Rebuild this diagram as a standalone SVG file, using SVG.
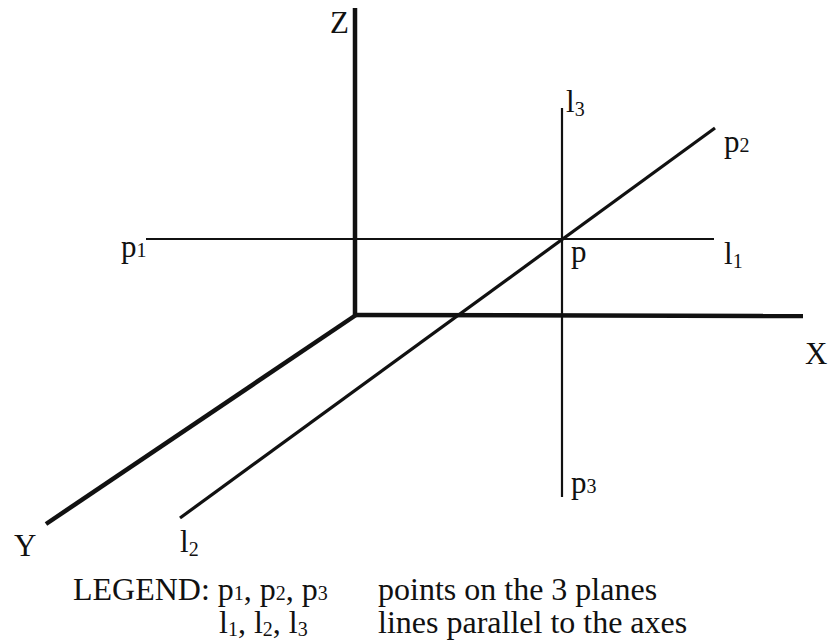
<svg xmlns="http://www.w3.org/2000/svg" width="828" height="642" viewBox="0 0 828 642">
<style>
text{font-family:"Liberation Serif","Times New Roman",serif;font-size:31px;fill:#111}
.lg{font-size:32px}
.s{font-size:20px}
.ax{stroke:#111;stroke-width:4.5;stroke-linecap:butt;fill:none}
.ln{stroke:#111;stroke-width:2.2;fill:none}
.l2{stroke:#111;stroke-width:3.2;fill:none}
</style>
<rect width="828" height="642" fill="#fff"/>
<g id="connectors">
<line class="ax" x1="355" y1="8" x2="355" y2="317"/>
<line class="ax" x1="353" y1="315" x2="803" y2="316"/>
<line class="ax" x1="356" y1="315" x2="46" y2="524"/>
<line class="ln" x1="146" y1="239" x2="714" y2="239"/>
<line class="ln" x1="562" y1="108" x2="562" y2="497"/>
<line class="l2" x1="180" y1="518" x2="715" y2="128"/>
</g>
<g id="Z"><text x="330" y="33">Z</text></g>
<g id="X"><text x="805" y="364">X</text></g>
<g id="Y"><text x="14" y="556">Y</text></g>
<g id="l3"><text x="566" y="112">l<tspan class="s" dy="4">3</tspan></text></g>
<g id="p2"><text x="724" y="152">p<tspan class="s">2</tspan></text></g>
<g id="p1"><text x="121" y="257">p<tspan class="s">1</tspan></text></g>
<g id="p"><text x="571" y="262">p</text></g>
<g id="l1"><text x="724" y="264">l<tspan class="s" dy="4">1</tspan></text></g>
<g id="p3"><text x="571" y="493">p<tspan class="s">3</tspan></text></g>
<g id="l2"><text x="180" y="552">l<tspan class="s" dy="4">2</tspan></text></g>
<g id="legend">
<text class="lg" x="73" y="600">LEGEND: p<tspan class="s">1</tspan>, p<tspan class="s">2</tspan>, p<tspan class="s">3</tspan></text>
<text class="lg" x="378" y="600">points on the 3 planes</text>
<text class="lg" x="219" y="633">l<tspan class="s" dy="3">1</tspan><tspan dy="-3">, l</tspan><tspan class="s" dy="3">2</tspan><tspan dy="-3">, l</tspan><tspan class="s" dy="3">3</tspan></text>
<text class="lg" x="378" y="633">lines parallel to the axes</text>
</g>
</svg>
